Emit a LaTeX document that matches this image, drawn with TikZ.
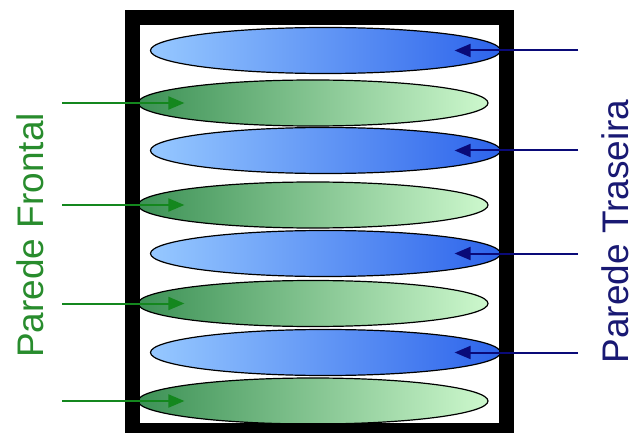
\documentclass[tikz,border=0pt]{standalone}
\usepackage{fontspec}
\setmainfont{Liberation Sans}
\usetikzlibrary{arrows.meta, shapes.geometric, calc}
\definecolor{frontc}{RGB}{40,140,45}
\definecolor{backc}{RGB}{25,25,115}
\definecolor{garrc}{RGB}{20,135,30}
\definecolor{barrc}{RGB}{10,10,120}
\definecolor{bluel}{RGB}{150,200,255}
\definecolor{bluer}{RGB}{45,100,235}
\definecolor{greenl}{RGB}{60,145,85}
\definecolor{greenr}{RGB}{205,248,205}
\tikzset{
  plate/.style={
    ellipse, draw=black, line width=1.2pt, inner sep=0pt,
    minimum width=350pt, minimum height=46pt
  },
  bplate/.style={plate, left color=bluel, right color=bluer},
  gplate/.style={plate, left color=greenl, right color=greenr},
  garr/.style={-{Triangle[length=16pt, width=13pt]}, line width=2pt, draw=garrc, fill=garrc},
  barr/.style={-{Triangle[length=16pt, width=13pt]}, line width=2pt, draw=barrc, fill=barrc},
  wall/.style={font=\fontsize{37}{40}\selectfont, rotate=90, anchor=base, inner sep=0pt},
  frame/.style={draw=black, line width=15pt},
}
\begin{document}
\begin{tikzpicture}[x=1pt, y=-1pt]
  \useasboundingbox (0,0) rectangle (635,433);
  \clip (0,0) rectangle (635,433);

  % plates, back (blue) and front (green), top to bottom
  \foreach \i/\yb/\yg in {1/50.5/103, 2/150.5/205, 3/253.5/303.5, 4/352.5/401} {
    \node[bplate] (b\i) at (325.5,\yb) {};
    \node[gplate] (g\i) at (313,\yg) {};
    \coordinate (bs\i) at (578,\yb);
    \coordinate (gs\i) at (62,\yg);
    \coordinate (bt\i) at ($(b\i.east) + (-46.5,0)$);
    \coordinate (gt\i) at ($(g\i.west) + (47,0)$);
  }

  \draw[frame] (132.5,17.5) rectangle (506.5,430.5);

  \foreach \i in {1,2,3,4} {
    \draw[garr] (gs\i) -- (gt\i);
    \draw[barr] (bs\i) -- (bt\i);
  }

  \node[wall, text=frontc] (front) at (43,235.5) {Parede Frontal};
  \node[wall, text=backc] (back) at (628.5,231.5) {Parede Traseira};

\end{tikzpicture}
\end{document}
